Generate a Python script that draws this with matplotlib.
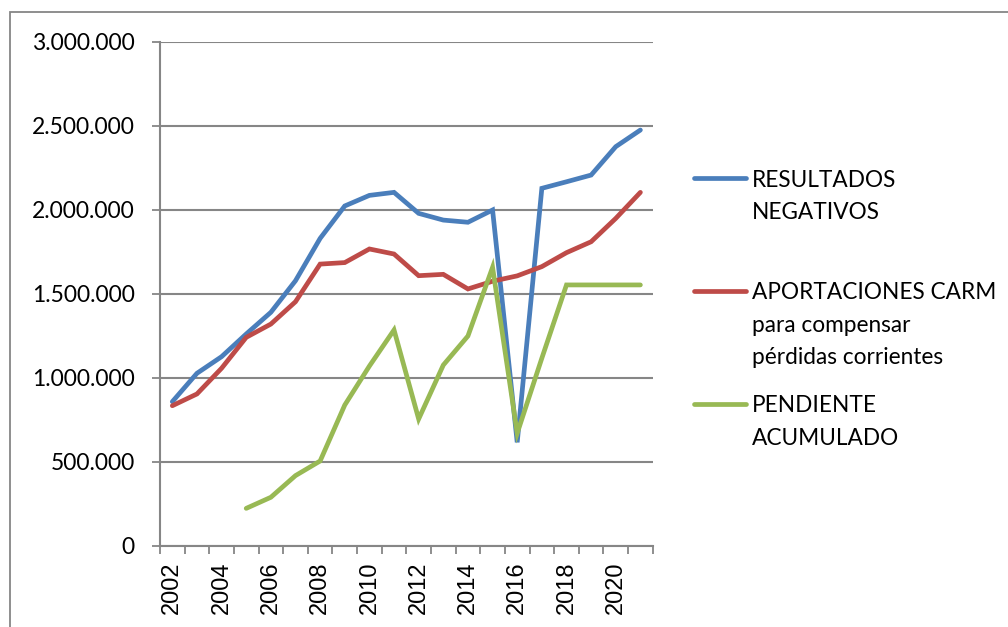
import matplotlib
matplotlib.use("Agg")
import matplotlib.pyplot as plt
from matplotlib.ticker import FuncFormatter, FixedLocator
from matplotlib.lines import Line2D
from matplotlib.patches import Rectangle

years = list(range(2002, 2022))
resultados_negativos = [859000, 1028000, 1127000, 1262000, 1391000, 1579000, 1831000, 2024000,
                        2087000, 2105000, 1980000, 1940000, 1927000, 2000000, 617000, 2129000,
                        2168000, 2208000, 2377000, 2476000]
aportaciones_carm = [835000, 905000, 1058000, 1242000, 1321000, 1454000, 1678000, 1687000,
                     1768000, 1738000, 1609000, 1617000, 1530000, 1576000, 1608000, 1663000,
                     1746000, 1811000, 1950000, 2105000]
pendiente_acumulado = [None, None, None, 224000, 290000, 419000, 506000, 839000,
                       1071000, 1286000, 756000, 1077000, 1250000, 1659000, 671000, 1118000,
                       1554000, 1554000, 1554000, 1554000]
series_labels = ["RESULTADOS\nNEGATIVOS",
                 "APORTACIONES CARM\npara compensar\npérdidas corrientes",
                 "PENDIENTE\nACUMULADO"]
y_ticks = [0, 500000, 1000000, 1500000, 2000000, 2500000, 3000000]

colors = ["#4A7EBB", "#BE4B48", "#98B954"]
grid_c = "#868686"

plt.rcParams['font.family'] = ['Lato', 'DejaVu Sans']

W, H = 1008, 627
fig = plt.figure(figsize=(W / 100, H / 100), dpi=100)
ax = fig.add_axes([160 / W, (H - 546) / H, 492.7 / W, 504 / H])

x = list(range(len(years)))
lw = 3.4
for vals, c in zip([resultados_negativos, aportaciones_carm, pendiente_acumulado], colors):
    xs = [xi for xi, v in zip(x, vals) if v is not None]
    vs = [v for v in vals if v is not None]
    ax.plot(xs, vs, color=c, lw=lw, solid_joinstyle='miter', solid_capstyle='round')

ax.set_xlim(-0.5, len(years) - 0.5)
ax.set_ylim(0, 3000000)
ax.set_yticks(y_ticks)
ax.yaxis.set_major_formatter(FuncFormatter(lambda v, p: f"{int(v):,}".replace(",", ".")))
ax.yaxis.grid(True, color=grid_c, lw=1.5)
ax.set_axisbelow(True)

ax.xaxis.set_major_locator(FixedLocator(x[::2]))
ax.set_xticklabels([str(y) for y in years[::2]], rotation=90,
                   fontfamily=['Liberation Sans', 'DejaVu Sans'], fontsize=17)
ax.xaxis.set_minor_locator(FixedLocator([i - 0.5 for i in range(len(years) + 1)]))
ax.tick_params(axis='x', which='major', length=0, pad=11)
ax.tick_params(axis='x', which='minor', length=6, width=1.3, color=grid_c, direction='out')
ax.tick_params(axis='y', which='major', length=6, width=1.3, color=grid_c, pad=12, labelsize=16.5)

for s in ['top', 'right']:
    ax.spines[s].set_visible(False)
for s in ['left', 'bottom']:
    ax.spines[s].set_color(grid_c)
    ax.spines[s].set_linewidth(1.5)

# legend (drawn manually so the handle sits on the first text line)
leg_y = [178.3, 290.7, 404.0]
for c, lab, yy in zip(colors, series_labels, leg_y):
    fy = 1 - yy / H
    fig.add_artist(Line2D([694 / W, 746 / W], [fy, fy], color=c, lw=lw,
                          solid_capstyle='round', transform=fig.transFigure))
    for k, ln in enumerate(lab.split("\n")):
        fig.text(752 / W, 1 - (yy + 8.4 + k * 32.5) / H, ln, ha='left', va='baseline',
                 fontsize=16.3, transform=fig.transFigure)

fig.add_artist(Rectangle((9.5 / W, -0.1), 2.0, 1.1 - 12 / H, transform=fig.transFigure,
                         fill=False, edgecolor=grid_c, lw=1.3))

fig.savefig("out.png", dpi=100)
